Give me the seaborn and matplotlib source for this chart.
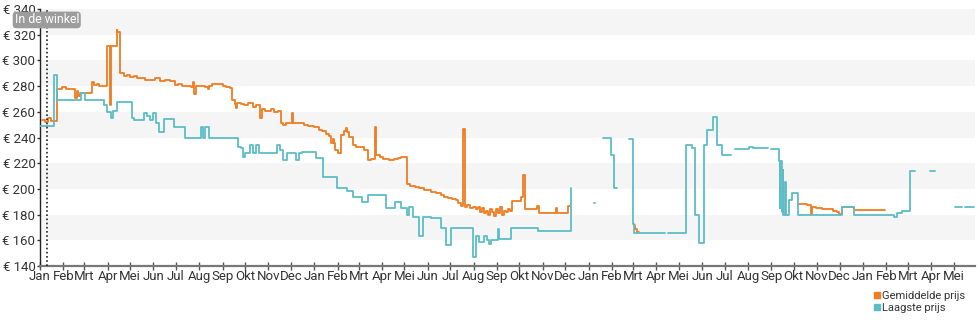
import numpy as np
import pandas as pd
import matplotlib
matplotlib.use("Agg")
import matplotlib.pyplot as plt
import matplotlib.dates as mdates
from matplotlib.lines import Line2D
from matplotlib.ticker import FuncFormatter
import seaborn as sns

# ---------------- data ----------------
start_date = "2017-01-01"          # day 0
end_day = 1244                     # right edge of the time axis
store_day = 9                      # "In de winkel" marker
month_labels = ["Jan", "Feb", "Mrt", "Apr", "Mei", "Jun",
                "Jul", "Aug", "Sep", "Okt", "Nov", "Dec"]
y_ticks = [140, 160, 180, 200, 220, 240, 260, 280, 300, 320, 340]
series_names = ["Gemiddelde prijs", "Laagste prijs"]
nan = np.nan

# Gemiddelde prijs (NaN = gap in the record)
avg_day = [3, 7, 11, 15, 23, 29, 35, 40, 45, 47,
           49, 51, 53, 69, 72, 76, 79, 84, 89, 93,
           95, 102, 103, 107, 112, 116, 120, 125, 129, 140,
           147, 153, 160, 167, 173, 179, 184, 189, 195, 201,
           203, 205, 207, 213, 219, 224, 225, 229, 235, 240,
           243, 248, 253, 256, 259, 261, 262, 267, 272, 277,
           283, 288, 293, 295, 300, 307, 312, 317, 321, 324,
           328, 335, 337, 341, 351, 357, 364, 371, 375, 380,
           384, 387, 390, 391, 393, 397, 400, 404, 407, 409,
           411, 416, 421, 427, 431, 436, 441, 446, 447, 452,
           457, 464, 471, 476, 481, 488, 493, 499, 504, 511,
           516, 520, 527, 533, 537, 543, 548, 553, 556, 560,
           563, 565, 568, 572, 576, 580, 583, 585, 588, 591,
           593, 596, 599, 601, 604, 607, 609, 612, 615, 617,
           620, 623, 625, 628, 640, 643, 646, 653, 661, 664,
           686, 688, 703, 705, nan,
           790, 792, 795, 797, nan,
           1009, 1016, 1021, 1026, 1027, 1033, 1040, 1048, 1055, 1061,
           1063, 1067, 1083, 1107, 1125]
avg_price = [254, 252, 255, 253, 278, 279, 278, 277.5, 278, 271,
             276, 272, 275, 283, 281, 282, 280, 280, 311, 265,
             311, 324, 322, 290, 288, 289, 287, 288, 286, 285,
             285, 286, 284, 285, 284, 281, 282, 280, 280, 279.5,
             283, 274, 280, 280, 279, 278, 280, 282, 281.5, 282,
             280, 279, 278.5, 269, 266, 263, 267, 266, 265, 266.5,
             264, 265, 255, 262, 261, 262, 260, 261, 251, 250,
             251, 259, 251, 251, 250, 249, 248, 246, 245, 243,
             241, 235.5, 239, 236, 230, 228, 242, 245, 247.5, 244,
             240.5, 234, 233, 232.5, 230.5, 222.5, 223.5, 248, 226, 225,
             223, 222.5, 223, 224, 224.5, 204, 202.5, 201.5, 201, 199.5,
             199, 197.5, 196.5, 195.5, 194, 193, 192, 191.5, 189, 186.5,
             247, 186, 187.5, 185, 186, 184, 186, 182, 185, 181,
             183, 180, 184, 182, 179, 184, 181, 186, 180, 183,
             182, 184, 183, 190.5, 194, 211, 184.5, 184, 187, 181.5,
             185, 181.5, 187, 187, nan,
             172, 169, 166.5, 166.5, nan,
             188.5, 188, 187.5, 180.5, 186, 185.5, 184.5, 184, 183, 182,
             180.5, 186, 183.5, 183.5, 183.5]

# Laagste prijs (NaN = gap in the record)
low_day = [0, 18, 22, 54, 60, 85, 89, 95, 97, 103,
           123, 125, 139, 143, 147, 151, 155, 158, 165, 178,
           193, 214, 217, 220, 225, 263, 267, 270, 273, 280,
           283, 287, 291, 315, 320, 323, 329, 340, 344, 349,
           367, 377, 395, 409, 416, 429, 437, 460, 473, 480,
           489, 491, 496, 504, 509, 520, 533, 540, 547, 576,
           580, 584, 591, 595, 598, 600, 609, 611, 627, 663,
           707, nan,
           737, 739, nan,
           749, 760, 764, 768, nan,
           784, 789, 791, 831, nan,
           836, 860, 867, 871, 877, 884, 888, 895, 901, 907,
           920, nan,
           925, 943, 949, 969, nan,
           973, 983, 984, 985, 987, 988, 989, 991, 993, 996,
           1000, 1009, 1067, 1083, 1137, 1141, 1147, 1157, 1164, nan,
           1184, 1191, nan,
           1217, 1227, nan,
           1231, 1243]
low_price = [249, 289, 269, 275, 269, 265, 260, 255, 261, 268,
             255, 254, 259, 257, 254, 259, 251, 244.5, 254.5, 248.5,
             239.5, 248.5, 239.5, 248.5, 239.5, 233, 232, 225, 227.7, 234,
             227.7, 234, 227.7, 234, 230, 222.5, 227.7, 222.5, 228, 229,
             224, 209.5, 201, 198, 194, 190, 195.3, 185, 190, 185,
             179.7, 186, 178.4, 163, 178.4, 177.1, 169.4, 156.4, 169.4, 147.3,
             163, 159, 163, 160.3, 157.2, 160.3, 168.6, 160.8, 169.4, 167.5,
             200.5, nan,
             189, 189, nan,
             240, 226, 201, 201, nan,
             239, 173, 166, 166, nan,
             166, 234, 232, 180, 158, 234, 246, 256, 234, 226,
             226, nan,
             231, 233, 232, 232, nan,
             231, 222, 185, 222, 182, 215, 180, 205, 180, 191,
             197, 180, 186, 180, 178, 181, 183, 214, 214, nan,
             214, 214, nan,
             186, 186, nan,
             186, 186]

assert len(avg_day) == len(avg_price)
assert len(low_day) == len(low_price)

# ---------------- styling ----------------
ORANGE = "#ef7d22"
TEAL = "#5cbdc6"
TEXT = "#333333"

sns.set_theme(style="white")
plt.rcParams["font.family"] = ["Roboto", "DejaVu Sans"]

t0 = pd.Timestamp(start_date)


def build(days, prices, name):
    d = pd.DataFrame({"day": days, "price": prices})
    d["seg"] = d["price"].isna().cumsum()
    d = d.dropna().copy()
    d["date"] = t0 + pd.to_timedelta(d["day"], unit="D")
    d["series"] = name
    return d


avg_df = build(avg_day, avg_price, series_names[0])
low_df = build(low_day, low_price, series_names[1])

fig = plt.figure(figsize=(9.8, 3.25), dpi=100)
ax = fig.add_axes([0.0408, 0.1815, 0.954, 0.7908])

# alternating horizontal bands
for lo, hi in zip(y_ticks[1::2], y_ticks[2::2]):
    ax.axhspan(lo, hi, color="#f5f5f5", lw=0, zorder=0)

sns.lineplot(data=avg_df, x="date", y="price", units="seg", estimator=None,
             sort=False, color=ORANGE, lw=1.3, drawstyle="steps-post",
             legend=False, ax=ax, zorder=3)
sns.lineplot(data=low_df, x="date", y="price", units="seg", estimator=None,
             sort=False, color=TEAL, lw=1.3, drawstyle="steps-post",
             legend=False, ax=ax, zorder=4)

ax.set_xlim(t0, t0 + pd.Timedelta(days=end_day))
ax.set_ylim(y_ticks[0], y_ticks[-1])
ax.set_xlabel("")
ax.set_ylabel("")

ax.set_yticks(y_ticks)
ax.set_yticklabels([f"€ {v}" for v in y_ticks])
ax.xaxis.set_major_locator(mdates.MonthLocator())
ax.xaxis.set_major_formatter(
    FuncFormatter(lambda v, p: month_labels[mdates.num2date(v).month - 1]))

ax.tick_params(axis="y", direction="out", length=2.5, width=1, color=TEXT,
               labelsize=9.5, labelcolor=TEXT, pad=0.8, left=True)
ax.tick_params(axis="x", direction="inout", length=6, width=1, color="#555555",
               labelsize=9.5, labelcolor=TEXT, pad=0, bottom=True)

for s in ["top", "right"]:
    ax.spines[s].set_visible(False)
ax.spines["left"].set_color("#222222")
ax.spines["left"].set_linewidth(1)
ax.spines["bottom"].set_color("#777777")
ax.spines["bottom"].set_linewidth(1.6)

# store marker
store_date = t0 + pd.Timedelta(days=store_day)
ax.axvline(store_date, color="#222222", lw=1.2, ls=(0, (1, 1.5)), zorder=5)
ax.text(store_date, 331.5, "In de winkel", ha="center", va="center",
        color="white", fontsize=8.8, zorder=6, clip_on=False,
        bbox=dict(boxstyle="round,pad=0.15,rounding_size=0.3",
                  fc="#9c9c9c", ec="none"))

handles = [Line2D([], [], marker="s", ls="none", color=ORANGE, markersize=4.5),
           Line2D([], [], marker="s", ls="none", color=TEAL, markersize=4.5)]
fig.legend(handles, series_names, loc="upper left",
           bbox_to_anchor=(874 / 980, 1 - 291 / 325), frameon=False,
           fontsize=8, handlelength=0.5, handletextpad=0.25,
           labelspacing=0.2, borderpad=0, borderaxespad=0,
           labelcolor=TEXT)

fig.savefig("out.png", dpi=100)
